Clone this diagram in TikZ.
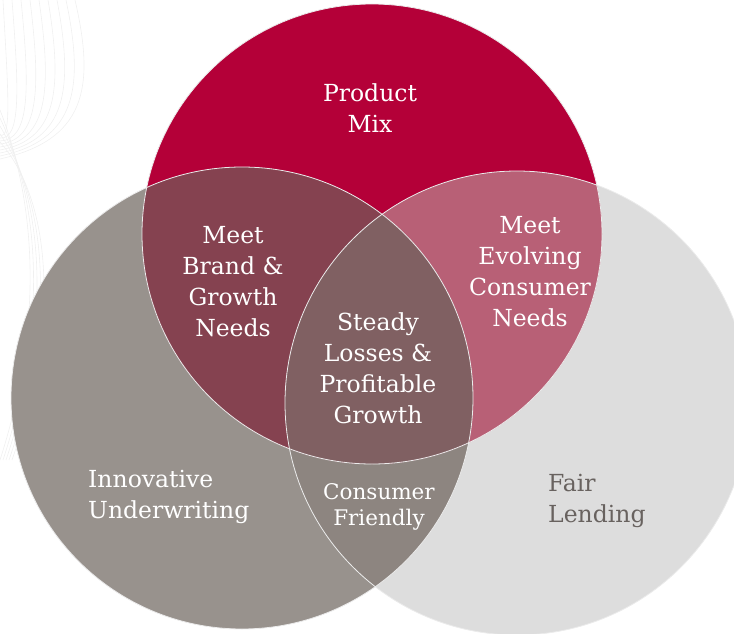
\documentclass[tikz,border=0pt]{standalone}
\usepackage{fontspec}
\setmainfont{DejaVu Serif}
\definecolor{prodred}{RGB}{180,0,56}
\definecolor{leftgray}{RGB}{152,146,141}
\definecolor{rightgray}{RGB}{221,221,221}
\definecolor{brandred}{RGB}{133,66,80}
\definecolor{evolvepink}{RGB}{184,96,118}
\definecolor{centermauve}{RGB}{128,96,98}
\definecolor{friendgray}{RGB}{141,133,128}
\definecolor{fairtext}{RGB}{104,98,95}

\begin{document}
\begin{tikzpicture}[x=1pt,y=-1pt,
    swirl/.style={draw=black!6,line width=0.6pt},
    outline/.style={draw=white!92!black,line width=0.8pt},
    region/.style={align=center,text=white,inner sep=0pt,
      font=\fontsize{23.5}{31}\selectfont},
    smallregion/.style={region,font=\fontsize{21.5}{26}\selectfont}]
  \clip (0,0) rectangle (734,634);
  % faint swirl in the background
  \foreach \i in {0,...,8}
    \draw[swirl] (3+9*\i,0) .. controls (8+11*\i,90) and (12+9*\i,140) .. (0,135+3*\i);
  \foreach \i in {0,...,4}
    \draw[swirl] (0,110+8*\i) .. controls (35+4*\i,200) and (45+4*\i,320) .. (3*\i,460);

  \coordinate (ctop) at (372,234);
  \coordinate (cleft) at (242,398);
  \coordinate (cright) at (517,403);

  \fill[leftgray] (cleft) circle (231pt);
  \fill[rightgray] (cright) circle (232pt);
  \begin{scope}
    \clip (cleft) circle (231pt);
    \fill[friendgray] (cright) circle (232pt);
  \end{scope}
  \fill[prodred] (ctop) circle (230pt);
  \begin{scope}
    \clip (ctop) circle (230pt);
    \fill[brandred] (cleft) circle (231pt);
    \fill[evolvepink] (cright) circle (232pt);
    \clip (cleft) circle (231pt);
    \fill[centermauve] (cright) circle (232pt);
  \end{scope}
  \draw[outline] (ctop) circle (230pt);
  \draw[outline] (cleft) circle (231pt);
  \draw[outline] (cright) circle (232pt);

  \node[region] (mix) at (370,108) {Product\\Mix};
  \node[region] (brand) at (233,282) {Meet\\Brand \&\\Growth\\Needs};
  \node[region] (evolve) at (530,272) {Meet\\Evolving\\Consumer\\Needs};
  \node[region] (steady) at (378,368) {Steady\\Losses \&\\Profitable\\Growth};
  \node[region,align=left,anchor=west] (innov) at (88,497) {Innovative\\Underwriting};
  \node[smallregion] (friend) at (379,507) {Consumer\\Friendly};
  \node[region,align=left,anchor=west,text=fairtext] (fair) at (548,501) {Fair\\Lending};
\end{tikzpicture}
\end{document}
